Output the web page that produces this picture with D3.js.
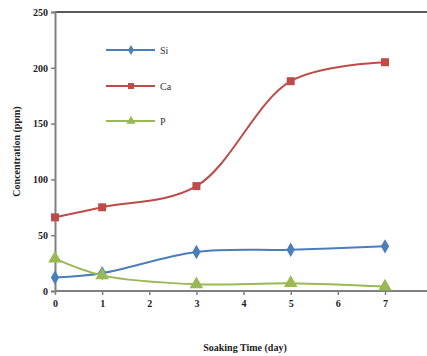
<!DOCTYPE html>
<html>
<head>
<meta charset="utf-8">
<script src="https://cdn.jsdelivr.net/npm/d3@7"></script>
<style>
  body { margin: 0; background: #fff; }
  svg { display: block; font-family: "Liberation Serif", "DejaVu Serif", serif; }
</style>
</head>
<body>
<div id="chart"></div>
<script>
// 浸漬時間ごとの濃度 (ppm)
const days = [0, 1, 3, 5, 7];
const si = [12, 16, 35, 37, 40];
const ca = [66, 75, 94, 188, 205];
const p = [29, 14, 6, 7, 4];
const xTicks = [0, 1, 2, 3, 4, 5, 6, 7];
const yTicks = [0, 50, 100, 150, 200, 250];

const series = [
  { name: 'Si', values: si, color: '#4A7EBB', marker: 'diamond' },
  { name: 'Ca', values: ca, color: '#BE4B48', marker: 'square' },
  { name: 'P', values: p, color: '#98B954', marker: 'triangle' }
];

const width = 427, height = 356;
const x0 = 55, y0 = 291, yTop = 12;

const svg = d3.select('#chart').append('svg')
  .attr('width', width)
  .attr('height', height);

const x = d3.scaleLinear().domain([0, 7]).range([x0, 385]);
const y = d3.scaleLinear().domain([0, 250]).range([y0, yTop]);

// 上枠
svg.append('line')
  .attr('x1', x0).attr('x2', width)
  .attr('y1', yTop).attr('y2', yTop)
  .attr('stroke', '#222').attr('stroke-width', 1.5);

// Y軸
const yAxis = svg.append('g')
  .attr('transform', `translate(${x0},0)`)
  .call(d3.axisLeft(y).tickValues(yTicks).tickSize(4).tickPadding(3));
yAxis.select('.domain').attr('stroke', '#808080').attr('stroke-width', 2);
yAxis.selectAll('.tick line').attr('stroke', '#808080').attr('stroke-width', 1.5);
yAxis.selectAll('.tick text')
  .attr('font-family', 'Liberation Serif').attr('font-size', 10)
  .attr('font-weight', 'bold').attr('fill', '#222');

// X軸
const xAxis = svg.append('g')
  .attr('transform', `translate(0,${y0})`)
  .call(d3.axisBottom(x).tickValues(xTicks).tickFormat(d3.format('d')).tickSize(4).tickPadding(5).tickSizeOuter(0));
xAxis.select('.domain').attr('d', `M${x0},0H${width}`).attr('stroke', '#808080').attr('stroke-width', 2);
xAxis.selectAll('.tick line').attr('stroke', '#808080').attr('stroke-width', 1.5);
xAxis.selectAll('.tick text')
  .attr('font-family', 'Liberation Serif').attr('font-size', 10)
  .attr('font-weight', 'bold').attr('fill', '#222');

// 軸タイトル
svg.append('text')
  .attr('transform', `translate(20,${(y0 + yTop) / 2}) rotate(-90)`)
  .attr('text-anchor', 'middle')
  .attr('font-size', 10).attr('font-weight', 'bold').attr('fill', '#222')
  .text('Concentration (ppm)');

svg.append('text')
  .attr('x', 245).attr('y', 351)
  .attr('text-anchor', 'middle')
  .attr('font-size', 10).attr('font-weight', 'bold').attr('fill', '#222')
  .text('Soaking Time (day)');

function markerPath(type) {
  if (type === 'diamond') return d3.symbol(d3.symbolDiamond, 60)();
  if (type === 'square') return d3.symbol(d3.symbolSquare, 64)();
  return d3.symbol(d3.symbolTriangle, 80)();
}

const line = d3.line()
  .x(d => x(d[0]))
  .y(d => y(d[1]))
  .curve(d3.curveCatmullRom.alpha(0.5));

series.forEach(s => {
  const pts = days.map((d, i) => [d, s.values[i]]);
  svg.append('path')
    .datum(pts)
    .attr('d', line)
    .attr('fill', 'none')
    .attr('stroke', s.color)
    .attr('stroke-width', 2);
  svg.selectAll(null)
    .data(pts)
    .enter()
    .append('path')
    .attr('d', markerPath(s.marker))
    .attr('transform', d => `translate(${x(d[0])},${y(d[1])})`)
    .attr('fill', s.color);
});

// 凡例
const legendY = [50, 86, 121];
series.forEach((s, i) => {
  const g = svg.append('g').attr('transform', `translate(106,${legendY[i]})`);
  g.append('line')
    .attr('x1', 0).attr('x2', 49)
    .attr('stroke', s.color).attr('stroke-width', 2);
  g.append('path')
    .attr('d', s.marker === 'diamond' ? d3.symbol(d3.symbolDiamond, 30)()
      : s.marker === 'square' ? d3.symbol(d3.symbolSquare, 36)()
      : d3.symbol(d3.symbolTriangle, 36)())
    .attr('transform', 'translate(25,0)')
    .attr('fill', s.color);
  g.append('text')
    .attr('x', 54).attr('y', 4)
    .attr('font-size', 10).attr('fill', '#333')
    .text(s.name);
});
</script>
</body>
</html>
